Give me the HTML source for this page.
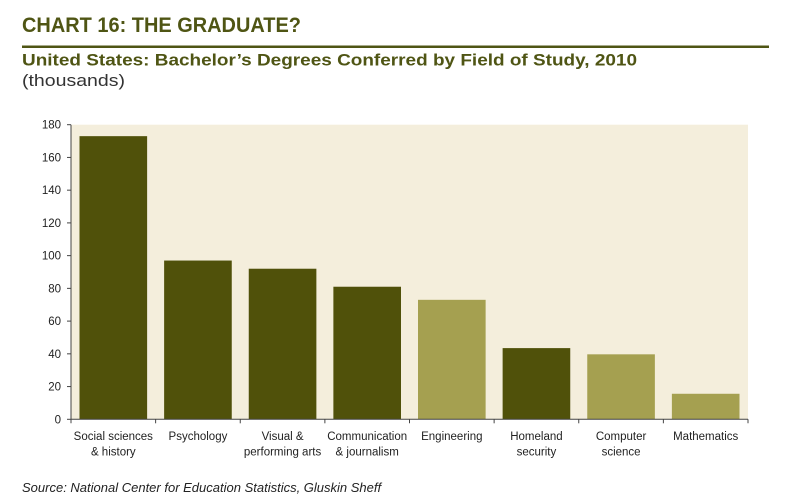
<!DOCTYPE html>
<html><head><meta charset="utf-8"><style>
body{margin:0;background:#fff;}
svg{display:block;font-family:"Liberation Sans",sans-serif;}
</style></head><body>
<svg id="chart" width="800" height="499" viewBox="0 0 800 499">
<text x="22" y="32" font-size="21" font-weight="bold" fill="#4f5514" textLength="279" lengthAdjust="spacingAndGlyphs">CHART 16: THE GRADUATE?</text>
<rect x="22" y="45.5" width="747" height="2.5" fill="#4f5514"/>
<text x="22" y="65.5" font-size="17" font-weight="bold" fill="#4f5514" textLength="615" lengthAdjust="spacingAndGlyphs">United States: Bachelor’s Degrees Conferred by Field of Study, 2010</text>
<text x="22" y="86" font-size="16.5" fill="#333" textLength="103" lengthAdjust="spacingAndGlyphs">(thousands)</text>
<rect x="71" y="124.7" width="677" height="294.6" fill="#f4eedc"/>
<g id="bars"></g><g id="axes"></g>
<text x="22" y="492" font-size="13" font-style="italic" fill="#222">Source: National Center for Education Statistics, Gluskin Sheff</text>
</svg>
<script>
const categories=[["Social sciences","& history"],["Psychology"],["Visual &","performing arts"],["Communication","& journalism"],["Engineering"],["Homeland","security"],["Computer","science"],["Mathematics"]];
const values=[173,97,92,81,73,43.5,39.7,15.6];
const highlight=[0,0,0,0,1,0,1,1];
const yTicks=[0,20,40,60,80,100,120,140,160,180];
const NS="http://www.w3.org/2000/svg";
const x0=71,x1=748,yTop=124.7,yBot=419.3,yMax=180;
const bw=(x1-x0)/categories.length;
const y=v=>yBot-(v/yMax)*(yBot-yTop);
const xs=i=>x0+i*bw;
function mk(t,a,p){const e=document.createElementNS(NS,t);for(const k in a)e.setAttribute(k,a[k]);p.appendChild(e);return e;}
const gb=document.getElementById('bars'),ga=document.getElementById('axes');
values.forEach((v,i)=>{
 const r=mk('rect',{x:xs(i)+8.5,y:y(v),width:bw-17,height:yBot-y(v),fill:highlight[i]?'#a5a050':'#50510a'},gb);
 
 
 categories[i].forEach((ln,j)=>{
  const t=mk('text',{x:xs(i)+bw/2,y:440+j*15.5,'font-size':11.5,'text-anchor':'middle',fill:'#222'},ga);
  t.textContent=ln;
  
  
 });
});
mk('line',{x1:x0,y1:yTop,x2:x0,y2:yBot,stroke:'#444','stroke-width':1},ga);
mk('line',{x1:x0,y1:yBot,x2:x1,y2:yBot,stroke:'#444','stroke-width':1},ga);
for(let i=0;i<=categories.length;i++)mk('line',{x1:xs(i),y1:yBot,x2:xs(i),y2:yBot+4,stroke:'#444'},ga);
yTicks.forEach(v=>{
 mk('line',{x1:x0-4,y1:y(v),x2:x0,y2:y(v),stroke:'#444'},ga);
 const t=mk('text',{x:x0-10,y:y(v)+4,'font-size':11.5,'text-anchor':'end',fill:'#222'},ga);
 t.textContent=v;
 
 
});
</script>
</body></html>
